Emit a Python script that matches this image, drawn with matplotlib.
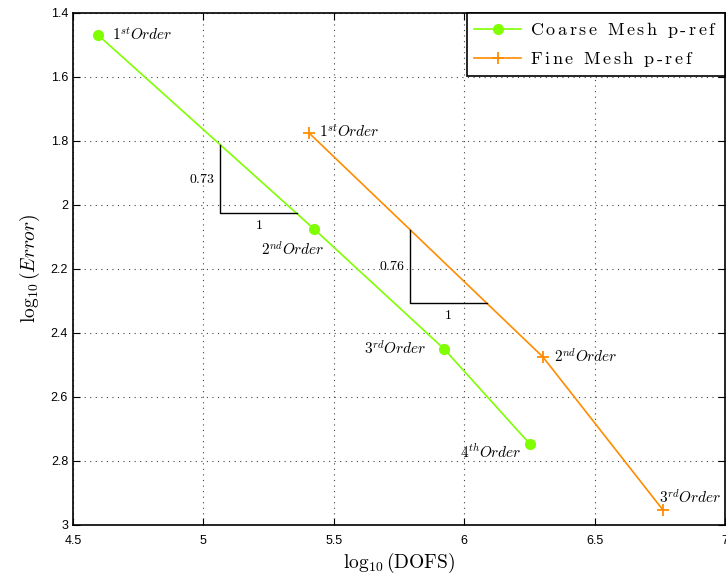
import matplotlib
matplotlib.use("Agg")
import matplotlib.pyplot as plt
import numpy as np

plt.rcParams['mathtext.fontset'] = 'cm'
plt.rcParams['font.family'] = 'Liberation Sans'

# data
coarse_x = [4.596, 5.424, 5.923, 6.252]
coarse_y = [1.469, 2.075, 2.450, 2.747]
coarse_lbl = [r'$1^{st}Order$', r'$2^{nd}Order$', r'$3^{rd}Order$', r'$4^{th}Order$']

fine_x = [5.405, 6.302, 6.762]
fine_y = [1.775, 2.475, 2.953]
fine_lbl = [r'$1^{st}Order$', r'$2^{nd}Order$', r'$3^{rd}Order$']

series_names = ['Coarse Mesh p-ref', 'Fine Mesh p-ref']

# slope triangles (corner x0, x1, y top, y bottom) and their labels
tri1 = [5.064, 5.359, 1.8125, 2.025]
tri2 = [5.792, 6.087, 2.078, 2.306]
slope_lbl = ['0.73', '0.76']

green = '#7fff00'
orange = '#ff8c00'


def spaced(s):
    # letter-spaced roman text done in mathtext
    out = []
    for w in s.split(' '):
        parts = []
        for c in w:
            parts.append(r'\mathrm{' + c + '}' if c != '-' else r'\text{-}')
        out.append(r'\,'.join(parts))
    return '$' + r'\ \ '.join(out) + '$'


fig = plt.figure(figsize=(7.26, 5.74), dpi=100)
ax = fig.add_axes([0.1006, 0.0854, 0.898, 0.8920])

ax.plot(coarse_x, coarse_y, '-o', color=green, lw=1.2, ms=7, mfc=green, mec=green,
        label=spaced(series_names[0]))
ax.plot(fine_x, fine_y, '-+', color=orange, lw=1.2, ms=8, mew=1.3,
        label=spaced(series_names[1]))

# point labels: offsets in points
c_off = [(10, 0), (-38, -15), (-58, 0), (-50, -6)]
for x, y, t, (dx, dy) in zip(coarse_x, coarse_y, coarse_lbl, c_off):
    ax.annotate(t, (x, y), xytext=(dx, dy), textcoords='offset points',
                ha='left', va='center', fontsize=11)
f_off = [(7, 1), (8, 0), (-3, 9)]
for x, y, t, (dx, dy) in zip(fine_x, fine_y, fine_lbl, f_off):
    ax.annotate(t, (x, y), xytext=(dx, dy), textcoords='offset points',
                ha='left', va='center', fontsize=11)

for tri, s in zip([tri1, tri2], slope_lbl):
    x0, x1, yt, yb = tri
    ax.plot([x0, x0, x1], [yt, yb, yb], color='black', lw=1)
    ax.text(x0 - 0.02, (yt + yb) / 2, r'$\mathrm{' + s + '}$', ha='right', va='center', fontsize=10)
    ax.text((x0 + x1) / 2, yb + 0.015, r'$\mathrm{1}$', ha='center', va='top', fontsize=10)

ax.set_xlim(4.5, 7)
ax.set_ylim(3, 1.4)
ax.set_xticks(np.arange(4.5, 7.01, 0.5))
ax.set_xticklabels(['4.5', '5', '5.5', '6', '6.5', '7'])
ax.set_yticks(np.arange(1.4, 3.01, 0.2))
ax.set_yticklabels(['1.4', '1.6', '1.8', '2', '2.2', '2.4', '2.6', '2.8', '3'])
ax.grid(True, linestyle=(0, (1, 4)), color='#444444', lw=0.8)
ax.tick_params(direction='in', top=True, right=True, labelsize=9, length=5)
ax.tick_params(axis='x', pad=7)
for sp in ax.spines.values():
    sp.set_linewidth(1.2)

ax.set_xlabel(r'$\log_{10}(\mathrm{DOFS})$', fontsize=14, labelpad=3)
ax.set_ylabel(r'$\log_{10}(Error)$', fontsize=14, labelpad=6)

leg = ax.legend(loc='upper right', fontsize=13, fancybox=False, framealpha=1,
                edgecolor='black', borderaxespad=0, handlelength=2.6,
                handletextpad=0.5, borderpad=0.4)
leg.get_frame().set_linewidth(1.2)

fig.savefig('out.png', dpi=100)
